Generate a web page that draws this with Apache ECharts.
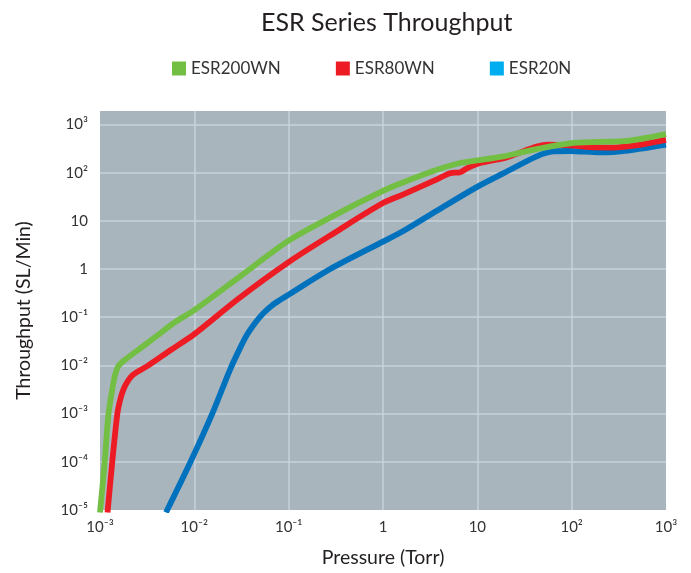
<!DOCTYPE html>
<html>
<head>
<meta charset="utf-8">
<script src="https://cdn.jsdelivr.net/npm/echarts@6/dist/echarts.min.js"></script>
<style>
  html, body { margin: 0; padding: 0; background: #ffffff; }
  #chart { width: 691px; height: 573px; }
</style>
</head>
<body>
<div id="chart"></div>
<script>
// ---- Data (pressure in Torr, throughput in SL/Min) ----
const seriesNames = ['ESR200WN', 'ESR80WN', 'ESR20N'];

const esr200wnPressure = [1.000e-3, 1.122e-3, 1.230e-3, 1.349e-3, 1.445e-3, 1.585e-3, 1.905e-3, 2.692e-3, 3.981e-3, 6.026e-3, 1.0e-2, 3.162e-2, 0.1, 0.3162, 1, 1.644, 3.724, 6.577, 9.64, 19.05, 42.66, 95.5, 199.5, 389, 1000];
const esr200wnThroughput = [8.9e-6, 1e-4, 1e-3, 3.16e-3, 6.31e-3, 1.0e-2, 1.38e-2, 2.29e-2, 4.07e-2, 7.59e-2, 0.1413, 0.741, 3.89, 13.49, 41.7, 63.1, 114.8, 158.5, 177.8, 218.8, 309, 407, 436.5, 457, 631];

const esr80wnPressure = [1.202e-3, 1.349e-3, 1.528e-3, 1.644e-3, 1.770e-3, 1.950e-3, 2.259e-3, 3.258e-3, 5.623e-3, 1e-2, 2.951e-2, 0.1, 0.3162, 1, 1.644, 3.724, 5.129, 6.577, 7.943, 10.72, 19.05, 25.12, 42.66, 56.23, 89.13, 158.5, 275.4, 501.2, 1000];
const esr80wnThroughput = [8.91e-6, 1e-4, 1e-3, 2.0e-3, 3.16e-3, 4.57e-3, 6.46e-3, 1.0e-2, 2.089e-2, 4.47e-2, 0.2455, 1.396, 5.89, 23.4, 35.5, 72.4, 97.7, 102.3, 125.9, 158.5, 199.5, 239.9, 346.7, 380.2, 371.5, 338.8, 331.1, 371.5, 478.6];

const esr20nPressure = [5.012e-3, 9.12e-3, 1.549e-2, 2.399e-2, 3.090e-2, 3.631e-2, 4.571e-2, 5.420e-2, 6.607e-2, 8.128e-2, 0.1, 0.2754, 1, 1.644, 3.724, 9.64, 19.05, 42.66, 64.57, 95.5, 199.5, 398.1, 1000];
const esr20nThroughput = [8.91e-6, 1e-4, 1e-3, 8.32e-3, 2.40e-2, 4.37e-2, 8.32e-2, 0.123, 0.1738, 0.229, 0.295, 1.0, 3.715, 6.166, 16.22, 49.0, 97.7, 218.8, 275.4, 281.8, 263.0, 288.4, 380.2];

const xTickLabels = ['10\u207B\u00B3', '10\u207B\u00B2', '10\u207B\u00B9', '1', '10', '10\u00B2', '10\u00B3'];
const xTickExponents = [-3, -2, -1, 0, 1, 2, 3];
const yTickLabels = ['10\u207B\u2075', '10\u207B\u2074', '10\u207B\u00B3', '10\u207B\u00B2', '10\u207B\u00B9', '1', '10', '10\u00B2', '10\u00B3'];
const yTickExponents = [-5, -4, -3, -2, -1, 0, 1, 2, 3];

const lineColors = ['#72bf44', '#ed1c24', '#0071bc'];
const legendColors = ['#72bf44', '#ed1c24', '#00aeef'];

function zip(xs, ys) { return xs.map((x, i) => [x, ys[i]]); }

function labelFor(exps, labels) {
  return function (v) {
    const l = Math.log10(v);
    const e = Math.round(l);
    if (Math.abs(l - e) > 1e-6) return '';
    const idx = exps.indexOf(e);
    return idx >= 0 ? labels[idx] : '';
  };
}

const FONT = 'Lato, "Open Sans", sans-serif';

const chart = echarts.init(document.getElementById('chart'), null, { renderer: 'canvas' });

const seriesData = [
  zip(esr200wnPressure, esr200wnThroughput),
  zip(esr80wnPressure, esr80wnThroughput),
  zip(esr20nPressure, esr20nThroughput)
];

chart.setOption({
  animation: false,
  backgroundColor: '#ffffff',
  textStyle: { fontFamily: FONT },
  title: {
    text: 'ESR Series Throughput',
    left: 256,
    top: 5,
    textStyle: { fontFamily: FONT, fontSize: 25, fontWeight: 'normal', color: '#231f20' }
  },
  legend: {
    left: 167,
    top: 55,
    icon: 'rect',
    itemWidth: 14,
    itemHeight: 14,
    itemGap: 55,
    textStyle: { fontFamily: FONT, fontSize: 17, color: '#333333' },
    data: seriesNames.map((n, i) => ({ name: n, itemStyle: { color: legendColors[i] } }))
  },
  grid: {
    left: 100,
    right: 25,
    top: 111,
    bottom: 61,
    show: true,
    backgroundColor: '#a9b5bd',
    borderWidth: 0
  },
  xAxis: {
    type: 'log',
    logBase: 10,
    min: 1e-3,
    max: 1e3,
    name: 'Pressure (Torr)',
    nameLocation: 'middle',
    nameGap: 38,
    nameTextStyle: { fontFamily: FONT, fontSize: 19.5, color: '#231f20' },
    axisLine: { show: false },
    axisTick: { show: false },
    axisLabel: {
      margin: 10,
      fontSize: 15,
      color: '#333333',
      fontFamily: FONT,
      formatter: labelFor(xTickExponents, xTickLabels)
    },
    splitLine: { show: true, showMinLine: false, showMaxLine: false, lineStyle: { color: '#c6d3dd', width: 1.5 } },
    minorTick: { show: false },
    minorSplitLine: { show: false }
  },
  yAxis: {
    type: 'log',
    logBase: 10,
    min: 1e-5,
    max: 1905,
    splitNumber: 8,
    name: 'Throughput (SL/Min)',
    nameLocation: 'middle',
    nameGap: 66,
    nameRotate: 90,
    nameTextStyle: { fontFamily: FONT, fontSize: 19.5, color: '#231f20' },
    axisLine: { show: false },
    axisTick: { show: false },
    axisLabel: {
      margin: 12,
      fontSize: 15,
      color: '#333333',
      fontFamily: FONT,
      formatter: labelFor(yTickExponents, yTickLabels),
      showMaxLabel: false
    },
    splitLine: { show: true, showMinLine: false, showMaxLine: false, lineStyle: { color: '#c6d3dd', width: 1.5 } }
  },
  series: seriesNames.map((n, i) => ({
    name: n,
    type: 'line',
    data: seriesData[i],
    symbol: 'none',
    smooth: 0.3,
    clip: true,
    z: 3 - i,
    itemStyle: { color: legendColors[i] },
    lineStyle: { color: lineColors[i], width: 5.8 }
  }))
});
</script>
</body>
</html>
